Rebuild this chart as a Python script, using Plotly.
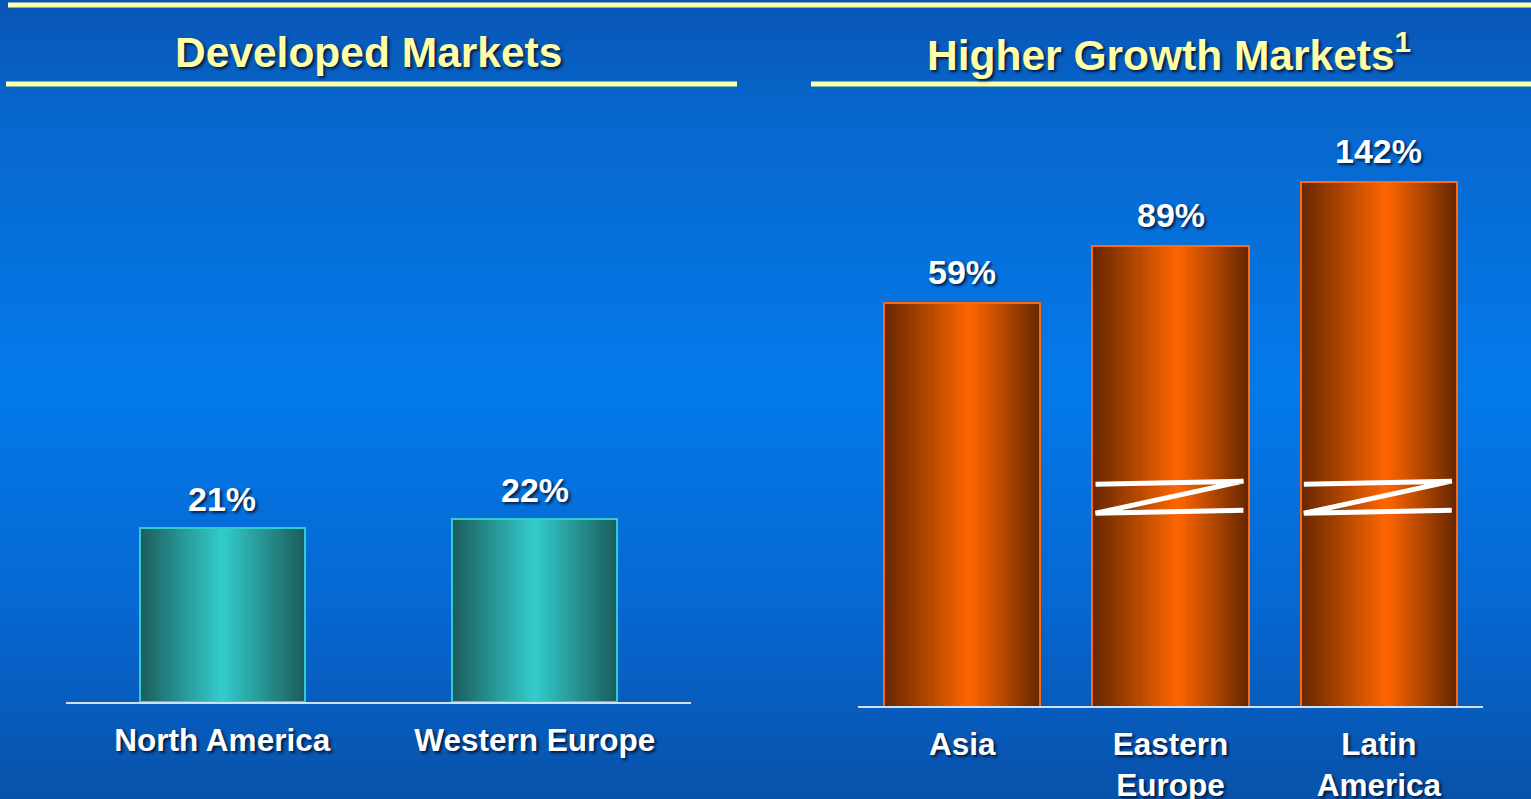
import numpy as np
import plotly.graph_objects as go

# ---- data -------------------------------------------------------------
dev_markets = ["North America", "Western Europe"]
dev_growth = [21, 22]

hg_markets = ["Asia", "Eastern<br>Europe", "Latin<br>America"]
hg_growth = [59, 89, 142]
hg_broken = [False, True, True]   # bars drawn with an axis-break marker

panel_titles = ["Developed Markets", "Higher Growth Markets<sup>1</sup>"]

# ---- styling ----------------------------------------------------------
W, H = 1531, 799
FONT = "Liberation Sans, Arial, Helvetica, sans-serif"
PALE = "#ffffa8"
SHADOW = "2px 2px 3px rgba(0,0,20,0.75)"

TEAL_DARK, TEAL_LIGHT, TEAL_EDGE = "#1c5c5c", "#33cccc", "#33cccc"
ORANGE_DARK, ORANGE_LIGHT, ORANGE_EDGE = "#652600", "#ff6600", "#ff6a10"

BG_STOPS = [(0.00, "#0856b4"), (0.15, "#0867cd"), (0.48, "#037aea"),
            (0.75, "#0668d2"), (1.00, "#0852aa")]


def hex_rgb(c):
    c = c.lstrip("#")
    return np.array([int(c[i:i + 2], 16) for i in (0, 2, 4)], dtype=float)


def mix(c1, c2, t):
    r = hex_rgb(c1) * (1 - t) + hex_rgb(c2) * t
    return "rgb(%d,%d,%d)" % tuple(np.round(r))


def bg_color(f):
    for (p0, c0), (p1, c1) in zip(BG_STOPS[:-1], BG_STOPS[1:]):
        if p0 <= f <= p1:
            return mix(c0, c1, (f - p0) / (p1 - p0))
    return BG_STOPS[-1][1]


fig = go.Figure()


def add_gradient_bars(values, xa, ya, width, dark, light, edge, peak, n=64):
    """Cylinder-like bars: each bar is built from n thin vertical slices."""
    xs = np.arange(len(values), dtype=float)
    for j in range(n):
        t = (j + 0.5) / n
        d = (t - peak) / peak if t < peak else (t - peak) / (1 - peak)
        b = 1 - abs(d)
        fig.add_bar(x=xs - width / 2 + t * width, y=values,
                    width=width / n * 1.2,
                    marker=dict(color=mix(dark, light, b), line_width=0),
                    xaxis=xa, yaxis=ya, hoverinfo="skip", showlegend=False)
    # outline on top of the slices
    fig.add_bar(x=xs, y=values, width=width,
                marker=dict(color="rgba(0,0,0,0)", line=dict(color=edge, width=2)),
                xaxis=xa, yaxis=ya, hoverinfo="skip", showlegend=False)


add_gradient_bars(dev_growth, "x", "y", 0.527, TEAL_DARK, TEAL_LIGHT, TEAL_EDGE, 0.5)
add_gradient_bars(hg_growth, "x2", "y2", 0.75, ORANGE_DARK, ORANGE_LIGHT, ORANGE_EDGE, 0.55)

annotations = []
value_font = dict(family=FONT, size=34, color="white", weight="bold", shadow=SHADOW)
for i, v in enumerate(dev_growth):
    annotations.append(dict(x=i, y=v, xref="x", yref="y", text=f"{v}%",
                            showarrow=False, yanchor="bottom", yshift=8,
                            font=value_font))
for i, v in enumerate(hg_growth):
    # log axis: annotation position is given in log10 units
    annotations.append(dict(x=i, y=np.log10(v), xref="x2", yref="y2", text=f"{v}%",
                            showarrow=False, yanchor="bottom", yshift=10,
                            font=value_font))

title_font = dict(family=FONT, size=42.5, color=PALE, weight="bold", shadow=SHADOW)
for cx, txt in zip([368 / W, 1169 / W], panel_titles):
    annotations.append(dict(x=cx, y=1 - 52 / H, xref="paper", yref="paper",
                            text=txt, showarrow=False, xanchor="center",
                            yanchor="middle", font=title_font))

shapes = []
# vertical background gradient
nb = 120
for k in range(nb):
    shapes.append(dict(type="rect", xref="paper", yref="paper", layer="below",
                       x0=0, x1=1, y0=1 - (k + 1) / nb - 0.001, y1=1 - k / nb,
                       fillcolor=bg_color((k + 0.5) / nb), line_width=0))

# header rules
for x0, x1, yp in [(8, W, 5), (6, 737, 84), (811, W, 84)]:
    shapes.append(dict(type="line", xref="paper", yref="paper",
                       x0=x0 / W, x1=x1 / W, y0=1 - yp / H, y1=1 - yp / H,
                       line=dict(color=PALE, width=5)))

# axis-break markers ("Z") on the compressed bars
for i, broken in enumerate(hg_broken):
    if not broken:
        continue
    xl, xr = i - 0.36, i + 0.35
    path = (f"M {xl},0.366 L {xr},0.371 L {xl},0.318 L {xr},0.323")
    shapes.append(dict(type="path", xref="x2", yref="y2 domain", path=path,
                       line=dict(color="white", width=5)))

tick_font = dict(family=FONT, size=31.5, color="white", weight="bold", shadow=SHADOW)
axis_common = dict(showgrid=False, zeroline=False, showline=True,
                   linecolor="#cfe0f5", linewidth=2, ticks="",
                   tickfont=tick_font, ticklabelstandoff=9, fixedrange=True,
                   automargin=False)

fig.update_layout(
    width=W, height=H,
    margin=dict(l=0, r=0, t=0, b=0, autoexpand=False),
    paper_bgcolor="#0852aa", plot_bgcolor="rgba(0,0,0,0)",
    barmode="overlay", bargap=0,
    showlegend=False,
    xaxis=dict(domain=[66 / W, 691 / W], range=[-0.5, 1.5], anchor="y",
               tickvals=list(range(len(dev_markets))), ticktext=dev_markets,
               **axis_common),
    yaxis=dict(domain=[1 - 702 / H, 1 - 100 / H], range=[0, 602 / 8.3],
               visible=False, fixedrange=True, automargin=False),
    xaxis2=dict(domain=[858 / W, 1483 / W], range=[-0.5, 2.5], anchor="y2",
                tickvals=list(range(len(hg_markets))), ticktext=hg_markets,
                **axis_common),
    yaxis2=dict(domain=[1 - 706 / H, 1 - 100 / H], type="log",
                range=[0.4996, 0.4996 + 606 / 317], visible=False,
                fixedrange=True, automargin=False),
    annotations=annotations,
    shapes=shapes,
)

fig.write_html("out.html")
